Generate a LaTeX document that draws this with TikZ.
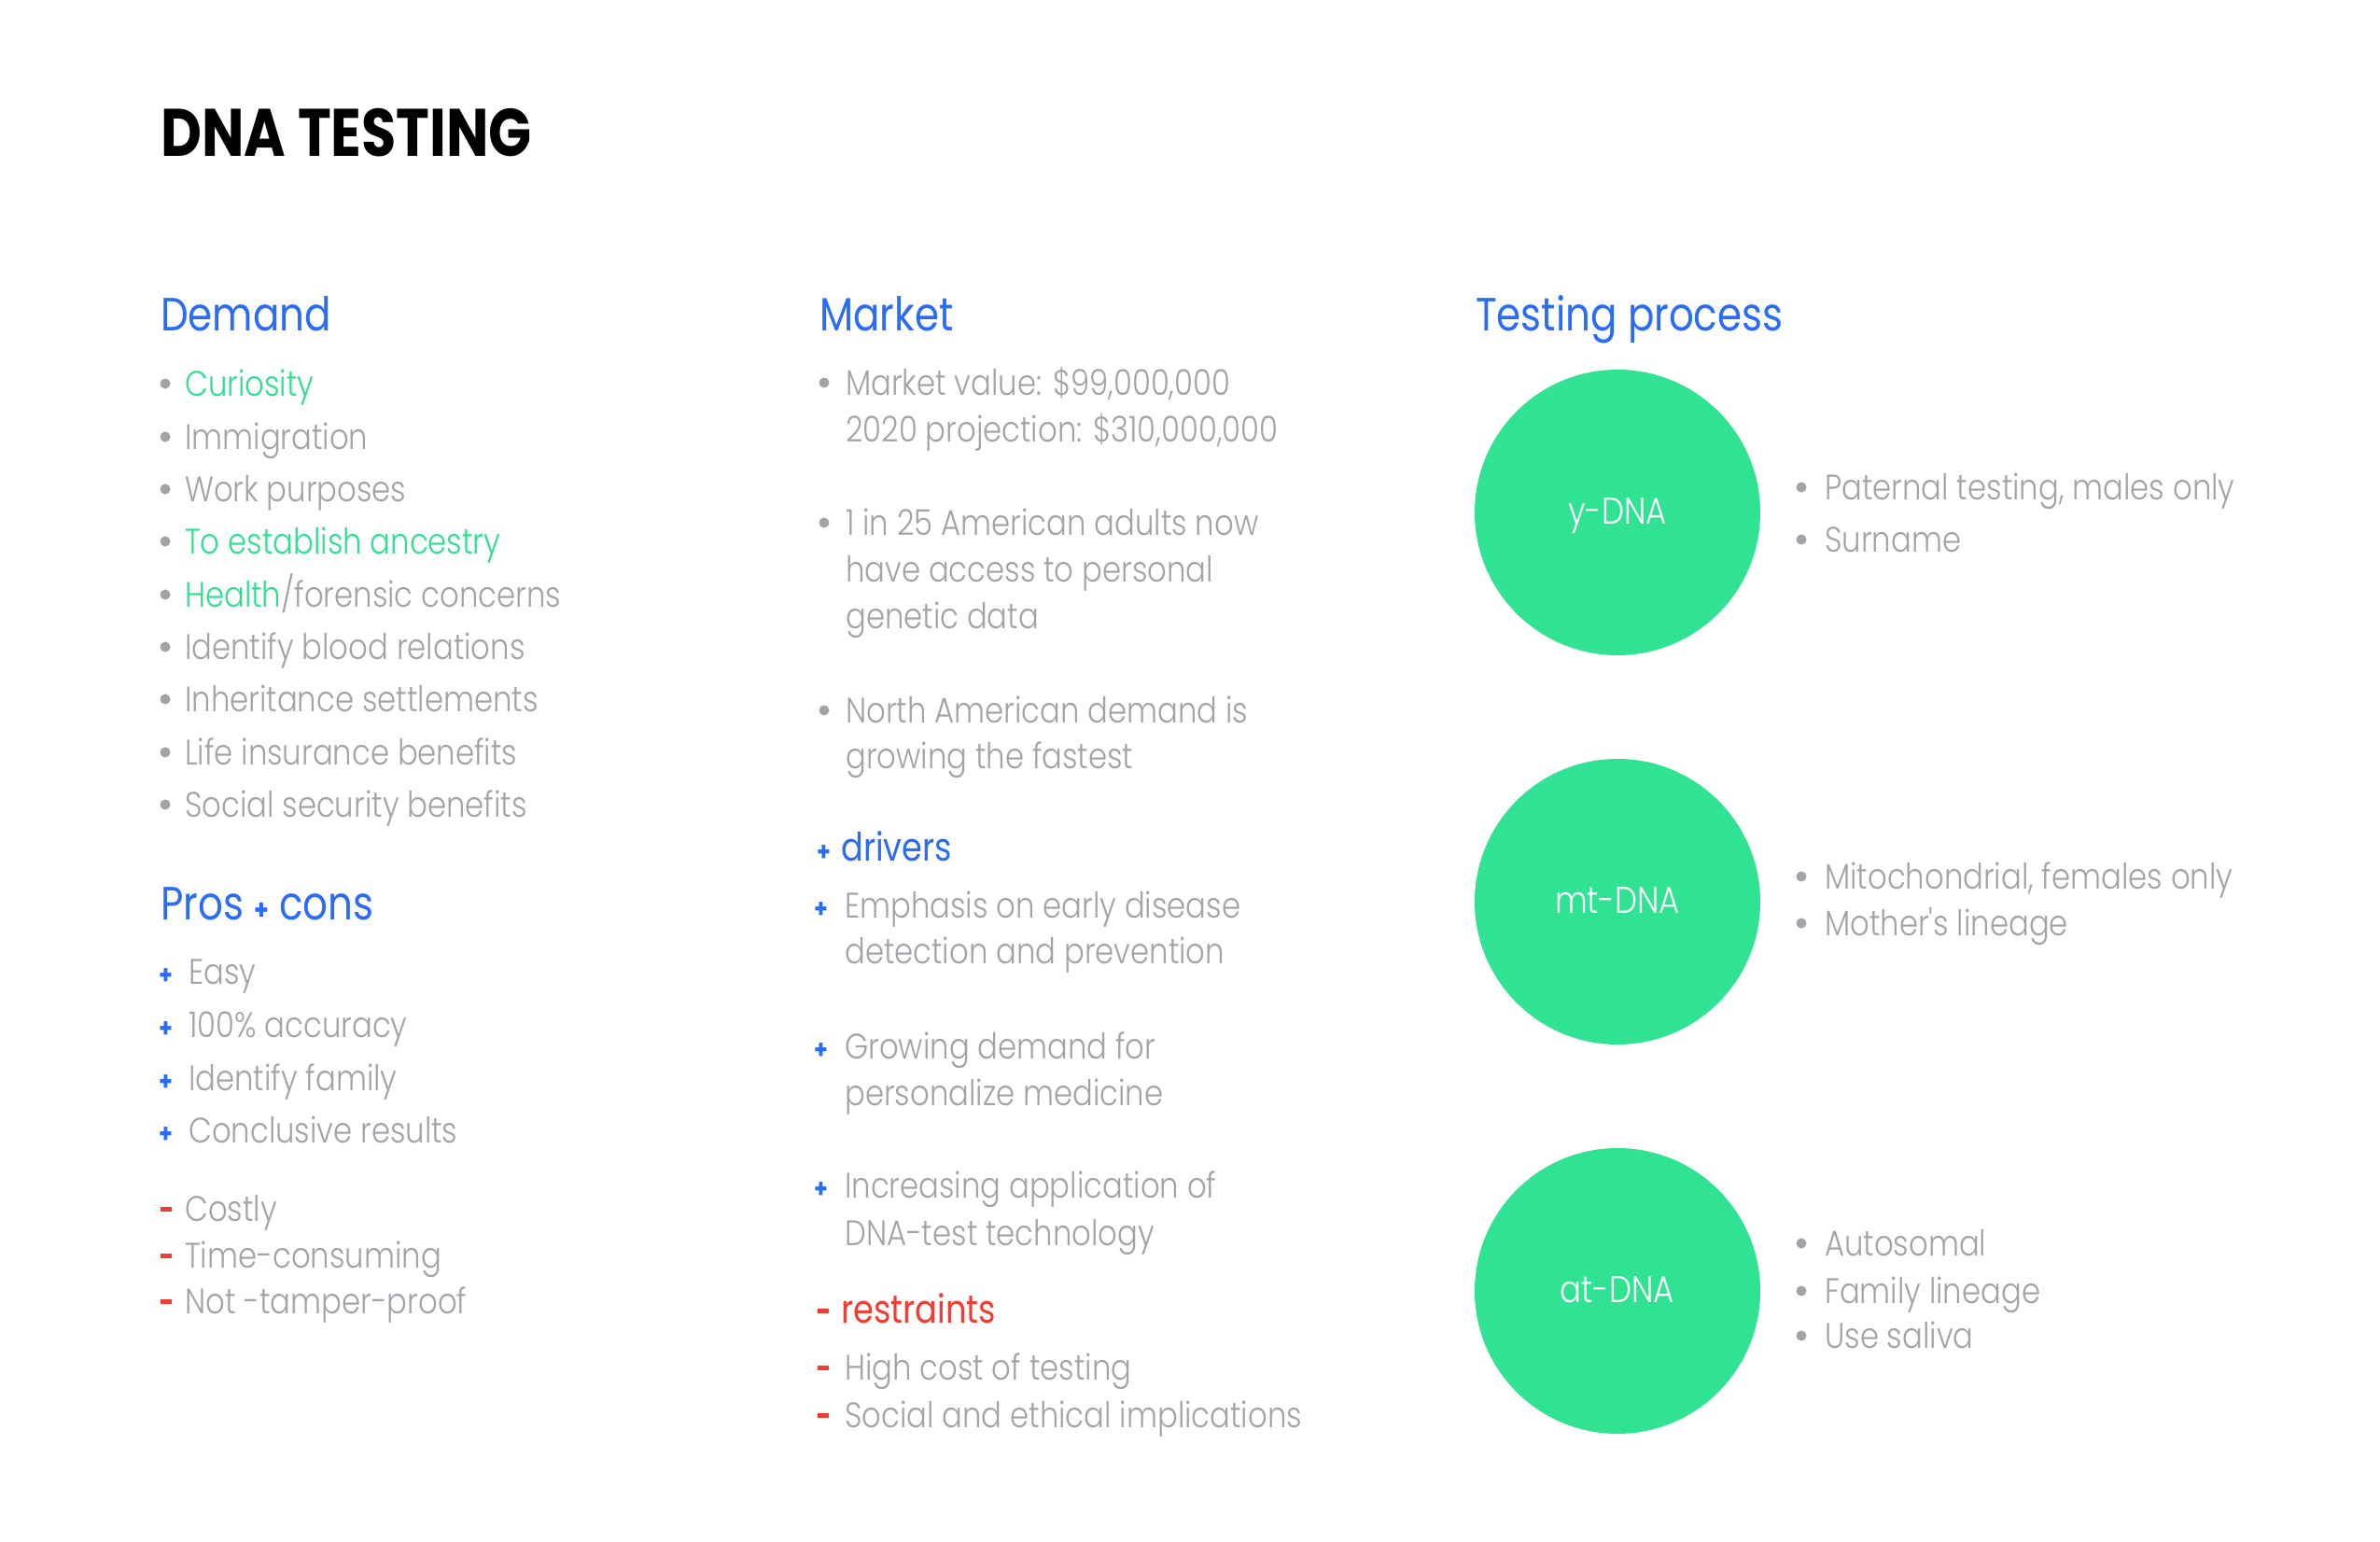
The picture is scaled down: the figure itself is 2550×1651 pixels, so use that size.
\documentclass[tikz,border=0pt]{standalone}
\usepackage{fontspec}
\setmainfont{Poppins}[FakeStretch=0.84]
\newfontfamily\lightfont{Poppins Light}[FakeStretch=0.85]
\definecolor{hblue}{HTML}{2B6CF6}
\definecolor{tgreen}{HTML}{2EE08E}
\definecolor{cgreen}{HTML}{30E392}
\definecolor{tgray}{HTML}{A2A2A7}
\definecolor{cred}{HTML}{F03C32}
\tikzset{
  titletext/.style={anchor=base west, inner sep=0, font=\fontsize{72}{72}\selectfont\bfseries},
  headtext/.style={anchor=base west, inner sep=0, text=hblue, font=\fontsize{50}{50}\selectfont},
  itemtext/.style={anchor=base west, inner sep=0, text=tgray, font=\lightfont\fontsize{38}{38}\selectfont},
  subhead/.style={anchor=base west, inner sep=0, font=\fontsize{42}{42}\selectfont},
  psign/.style={anchor=base west, inner sep=0, text=hblue, font=\fontsize{28}{28}\selectfont\bfseries},
  dnacirc/.style={circle, fill=cgreen, minimum size=306pt, inner sep=0, text height=24pt, text depth=0pt, text=white, font=\lightfont\fontsize{40}{40}\selectfont},
  bul/.style={fill=tgray},
  msign/.style={fill=cred}
}
\begin{document}
\begin{tikzpicture}[x=1pt,y=-1pt]
\useasboundingbox[fill=white] (0,0) rectangle (2550,1651);
% title
\node[titletext] (title) at (172,167) {DNA TESTING};
% headings
\node[headtext] (hdemand) at (172,354) {Demand};
\node[headtext] (hmarket) at (878,354) {Market};
\node[headtext] (htest) at (1581,354) {Testing process};
\node[headtext] (hpros) at (172,985) {Pros {\bfseries\fontsize{30}{30}\selectfont +} cons};
% demand items
\foreach \y/\t/\n in {424/{\textcolor{tgreen}{Curiosity}}/d1,
  481/Immigration/d2, 537/Work purposes/d3,
  593/{\textcolor{tgreen}{To establish ancestry}}/d4,
  650/{\textcolor{tgreen}{Health}/forensic concerns}/d5,
  706/Identify blood relations/d6, 762/Inheritance settlements/d7,
  819/Life insurance benefits/d8, 875/Social security benefits/d9}{
  \fill[bul] (177,\y-13) circle (5.5);
  \node[itemtext] (\n) at (198,\y) {\t};
}
% pros
\foreach \y/\t/\n in {1054/Easy/p1, 1111/100\% accuracy/p2, 1168/Identify family/p3, 1224/Conclusive results/p4}{
  \node[psign] (\n s) at (170,\y) {+};
  \node[itemtext] (\n) at (202,\y) {\t};
}
% cons
\foreach \y/\t/\n in {1308/Costly/c1, 1358/Time-consuming/c2, 1407/Not -tamper-proof/c3}{
  \fill[msign] (172,\y-15) rectangle (184,\y-10);
  \node[itemtext] (\n) at (198,\y) {\t};
}
% market
\fill[bul] (883,410) circle (5.5);
\node[itemtext] (m1a) at (906,423) {Market value: \$99,000,000};
\node[itemtext] (m1b) at (906,473.5) {2020 projection: \$310,000,000};
\fill[bul] (883,560) circle (5.5);
\node[itemtext] (m2a) at (906,573) {1 in 25 American adults now};
\node[itemtext] (m2b) at (906,623) {have access to personal};
\node[itemtext] (m2c) at (906,673) {genetic data};
\fill[bul] (883,761) circle (5.5);
\node[itemtext] (m3a) at (906,774) {North American demand is};
\node[itemtext] (m3b) at (906,823) {growing the fastest};
% drivers
\node[psign] (drs) at (875,922) {+};
\node[subhead, text=hblue] (drivers) at (901,922) {drivers};
\node[psign] (m4s) at (872,983) {+};
\node[itemtext] (m4a) at (905,983) {Emphasis on early disease};
\node[itemtext] (m4b) at (905,1032.5) {detection and prevention};
\node[psign] (m5s) at (872,1134) {+};
\node[itemtext] (m5a) at (905,1134) {Growing demand for};
\node[itemtext] (m5b) at (905,1184) {personalize medicine};
\node[psign] (m6s) at (872,1283) {+};
\node[itemtext] (m6a) at (905,1283) {Increasing application of};
\node[itemtext] (m6b) at (905,1334) {DNA-test technology};
% restraints
\fill[msign] (876,1417-15) rectangle (888,1417-10);
\node[subhead, text=cred] (restr) at (901,1417) {restraints};
\fill[msign] (876,1478-15) rectangle (888,1478-10);
\node[itemtext] (m7) at (905,1478) {High cost of testing};
\fill[msign] (876,1529-15) rectangle (888,1529-10);
\node[itemtext] (m8) at (905,1529) {Social and ethical implications};
% circles
\node[dnacirc] (ydna) at (1733,549) {y-DNA};
\node[dnacirc] (mtdna) at (1733,966) {mt-DNA};
\node[dnacirc] (atdna) at (1733,1383) {at-DNA};
% right items
\foreach \y/\t/\n in {535/{Paternal testing, males only}/r1, 591/Surname/r2,
  952/{Mitochondrial, females only}/r3, 1002/Mother's lineage/r4,
  1345/Autosomal/r5, 1396/Family lineage/r6, 1444/Use saliva/r7}{
  \fill[bul] (1930,\y-13) circle (5.5);
  \node[itemtext] (\n) at (1955,\y) {\t};
}
\end{tikzpicture}
\end{document}
